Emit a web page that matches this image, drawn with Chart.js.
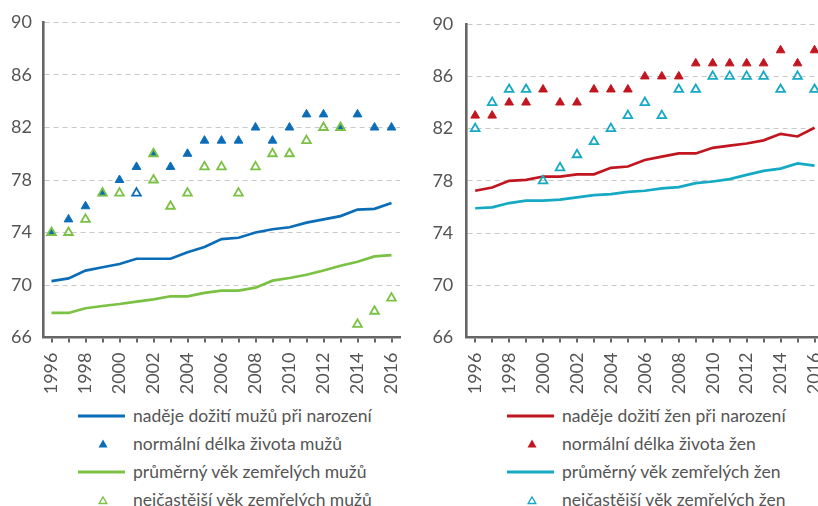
<!DOCTYPE html>
<html>
<head>
<meta charset="utf-8">
<script src="https://cdn.jsdelivr.net/npm/chart.js@4/dist/chart.umd.min.js"></script>
<style>
  html, body { margin:0; padding:0; background:#fff; overflow:hidden; width:818px; height:506px; }
  .box { position:absolute; top:0; height:400px; }
  #boxMen { left:0; width:410px; }
  #boxWomen { left:410px; width:413px; }
  .leg { position:absolute; font-family:Lato, sans-serif; font-size:17.5px; color:#555; white-space:nowrap; line-height:22px; height:22px; }
  .leg svg { position:absolute; top:0; }
</style>
</head>
<body>
<div class="box" id="boxMen"><canvas id="menChart"></canvas></div>
<div class="box" id="boxWomen"><canvas id="womenChart"></canvas></div>
<div id="legends"></div>
<script>
// values
const years = ['1996','1997','1998','1999','2000','2001','2002','2003','2004','2005','2006',
  '2007','2008','2009','2010','2011','2012','2013','2014','2015','2016'];
const yTicks = [66, 70, 74, 78, 82, 86, 90];

// men
const menLife   = [70.3,70.5,71.1,71.35,71.6,72.0,72.0,72.0,72.5,72.9,73.5,73.6,74.0,74.25,74.4,74.75,75.0,75.25,75.75,75.8,76.25];
const menNormal = [74,75,76,77,78,79,80,79,80,81,81,81,82,81,82,83,83,82,83,82,82];
const menAvg    = [67.87,67.87,68.23,68.4,68.55,68.73,68.9,69.14,69.14,69.4,69.57,69.57,69.8,70.33,70.53,70.78,71.1,71.47,71.77,72.18,72.28];
// most frequent age: 2002 has two marks in the source
const menModalYears  = ['1996','1997','1998','1999','2000','2001','2002','2002','2003','2004','2005','2006','2007','2008','2009','2010','2011','2012','2013','2014','2015','2016'];
const menModalValues = [74,74,75,77,77,77,80,78,76,77,79,79,77,79,80,80,81,82,82,67,68,69];

// women
const womenLife   = [77.24,77.49,78.0,78.08,78.33,78.33,78.5,78.5,79.0,79.1,79.6,79.85,80.1,80.1,80.53,80.7,80.86,81.1,81.6,81.4,82.07];
const womenNormal = [83,83,84,84,85,84,84,85,85,85,86,86,86,87,87,87,87,87,88,87,88];
const womenAvg    = [75.9,75.97,76.3,76.48,76.48,76.56,76.73,76.9,76.99,77.16,77.24,77.42,77.52,77.82,77.95,78.13,78.46,78.76,78.94,79.34,79.16];
const womenModal  = [82,84,85,85,78,79,80,81,82,83,84,83,85,85,86,86,86,86,85,86,85];

const labelsMen = ['naděje dožití mužů při narození','normální délka života mužů','průměrný věk zemřelých mužů','nejčastější věk zemřelých mužů'];
const labelsWomen = ['naděje dožití žen při narození','normální délka života žen','průměrný věk zemřelých žen','nejčastější věk zemřelých žen'];

const BLUE = '#0b6db7', GREEN = '#7bc143', RED = '#c1161f', CYAN = '#15aac3';
const AXIS = '#666', TXT = '#555';

Chart.defaults.font.family = 'Lato, sans-serif';
Chart.defaults.color = TXT;

function lineSet(label, data, color, order){
  return {type:'line', label, data, borderColor:color, backgroundColor:color, borderWidth:2.7,
    pointRadius:0, tension:0, order};
}
function filledSet(label, data, color, order){
  return {type:'line', label, data, showLine:false, pointStyle:'triangle', pointRadius:5,
    pointBackgroundColor:color, pointBorderColor:color, pointBorderWidth:1, order};
}
function hollowSet(label, data, color, order, borderColors){
  return {type:'line', label, data, showLine:false, pointStyle:'triangle', pointRadius:5,
    pointBackgroundColor:'rgba(255,255,255,0)', pointBorderColor:borderColors || color, pointBorderWidth:1.8, order};
}

function makeChart(id, datasets, axisWidth, labelPad, padRight){
  return new Chart(document.getElementById(id), {
    data:{labels:years, datasets},
    options:{
      responsive:true, maintainAspectRatio:false, animation:false,
      events:[],
      layout:{autoPadding:false, padding:{top:22.5, right:padRight, bottom:0, left:0}},
      plugins:{legend:{display:false}, tooltip:{enabled:false}},
      scales:{
        x:{
          type:'category', offset:true,
          grid:{drawOnChartArea:false, drawTicks:true, tickLength:5, color:AXIS, lineWidth:2},
          border:{display:true, color:AXIS, width:2.6},
          ticks:{autoSkip:false, maxRotation:90, minRotation:90, padding:10,
            font:{size:18}, color:TXT,
            callback:(v, i) => i % 2 === 0 ? years[i] : ''},
          afterFit:s => { s.height = 62.5; s.paddingLeft = 0; s.paddingRight = 0; }
        },
        y:{
          min:66, max:90,
          afterBuildTicks:s => { s.ticks = yTicks.map(v => ({value:v})); },
          grid:{color:'#c9c9c9', lineWidth:1, drawTicks:false},
          border:{display:true, color:AXIS, width:2.6, dash:[5,4]},
          ticks:{padding:labelPad, font:{size:18}, color:TXT},
          afterFit:s => { s.width = axisWidth; }
        }
      }
    }
  });
}

const menModalPoints = menModalYears.map((y, i) => ({x:y, y:menModalValues[i]}));
// the 2001 mark is drawn in blue in the source
const menModalBorders = menModalYears.map(y => y === '2001' ? BLUE : GREEN);

makeChart('menChart', [
  hollowSet(labelsMen[3], menModalPoints, GREEN, 0, menModalBorders),
  filledSet(labelsMen[1], menNormal, BLUE, 1),
  lineSet(labelsMen[0], menLife, BLUE, 2),
  lineSet(labelsMen[2], menAvg, GREEN, 3)
], 43, 11, 10);

makeChart('womenChart', [
  hollowSet(labelsWomen[3], womenModal, CYAN, 0),
  filledSet(labelsWomen[1], womenNormal, RED, 1),
  lineSet(labelsWomen[0], womenLife, RED, 2),
  lineSet(labelsWomen[2], womenAvg, CYAN, 3)
], 56.7, 13.4, 0);

// legends below the charts
function legend(left, labels, colors){
  const rowsY = [416, 444, 472, 500];
  const host = document.getElementById('legends');
  labels.forEach((txt, i) => {
    const d = document.createElement('div');
    d.className = 'leg';
    d.style.left = (left + 55) + 'px';
    d.style.top = (rowsY[i] - 11) + 'px';
    d.textContent = txt;
    const c = colors[i];
    let svg;
    if (i === 0 || i === 2) {
      svg = `<svg width="48" height="22" style="left:-55px"><line x1="0" y1="11" x2="47" y2="11" stroke="${c}" stroke-width="2.8"/></svg>`;
    } else if (i === 1) {
      svg = `<svg width="12" height="22" style="left:-36px"><polygon points="6,6.5 10.5,14.5 1.5,14.5" fill="${c}"/></svg>`;
    } else {
      svg = `<svg width="12" height="22" style="left:-36px"><polygon points="6,8 9.8,14.5 2.2,14.5" fill="none" stroke="${c}" stroke-width="1.4"/></svg>`;
    }
    d.insertAdjacentHTML('afterbegin', svg);
    host.appendChild(d);
  });
}
legend(78, labelsMen, [BLUE, BLUE, GREEN, GREEN]);
legend(507, labelsWomen, [RED, RED, CYAN, CYAN]);
</script>
</body>
</html>
